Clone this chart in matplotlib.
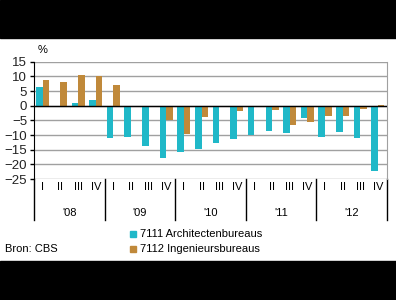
import matplotlib
matplotlib.use("Agg")
import matplotlib.pyplot as plt
from matplotlib.patches import Rectangle
import numpy as np

plt.rcParams['font.family'] = ['Liberation Sans', 'DejaVu Sans']

# data
years = ["'08", "'09", "'10", "'11", "'12"]
quarters = ['I', 'II', 'III', 'IV']
architecten = [6.3, 0.0, 0.9, 1.8,
               -11.0, -10.7, -13.7, -17.8,
               -15.8, -14.8, -12.7, -11.4,
               -10.1, -8.6, -9.3, -4.2,
               -10.7, -9.0, -11.0, -22.3]
ingenieurs = [8.6, 8.0, 10.3, 10.0,
              6.9, -0.4, -0.4, -5.0,
              -9.8, -3.9, -0.2, -1.8,
              -0.4, -1.5, -6.6, -5.6,
              -3.5, -3.5, -1.1, 0.4]
series_names = ['7111 Architectenbureaus', '7112 Ingenieursbureaus']
colors = ['#20B8C8', '#C0893A']

fig = plt.figure(figsize=(3.96, 3.0), dpi=100)
# black bands top and bottom
fig.add_artist(Rectangle((0, 1 - 38 / 300), 1, 38 / 300, transform=fig.transFigure,
                         color='black', zorder=0))
fig.add_artist(Rectangle((0, 0), 1, 39 / 300, transform=fig.transFigure,
                         color='black', zorder=0))

ax = fig.add_axes([34 / 396, 1 - 179 / 300, 352.7 / 396, 117.3 / 300])
x = np.arange(len(architecten))
w = 0.37
ax.bar(x - w / 2, architecten, w, color=colors[0], zorder=3)
ax.bar(x + w / 2, ingenieurs, w, color=colors[1], zorder=3)

ax.set_xlim(-0.5, len(x) - 0.5)
ax.set_ylim(-25, 15)
ax.set_yticks(range(-25, 16, 5))
ax.yaxis.grid(True, color='#A0A0A0', linewidth=1)
ax.set_axisbelow(True)
ax.axhline(0, color='black', linewidth=1, zorder=4)
ax.set_xticks([])
ax.tick_params(axis='y', length=3, width=1, pad=2, labelsize=9.5, color='black',
               labelcolor='#222222')
ax.spines['top'].set_visible(False)
ax.spines['bottom'].set_visible(False)
ax.spines['right'].set_color('#A0A0A0')
ax.spines['left'].set_color('black')

# category labels underneath
trans = ax.get_xaxis_transform()
for i in range(len(x)):
    ax.text(i, -0.068, quarters[i % 4], transform=trans, ha='center', va='center',
            fontsize=8)
for j, yr in enumerate(years):
    ax.text(j * 4 + 1.5, -0.29, yr, transform=trans, ha='center', va='center',
            fontsize=8)
for b in range(len(years) + 1):
    ax.plot([b * 4 - 0.5, b * 4 - 0.5], [0, -0.35], transform=trans, color='black',
            linewidth=1, clip_on=False)

fig.text(38 / 396, 1 - 50 / 300, '%', fontsize=8, ha='left', va='center')

# legend
for k, name in enumerate(series_names):
    yy = 1 - (234 + 15 * k) / 300
    fig.add_artist(Rectangle((130 / 396, yy - 3 / 300), 6 / 396, 6 / 300,
                             transform=fig.transFigure, color=colors[k]))
    fig.text(140 / 396, yy, name, fontsize=8, ha='left', va='center')
fig.text(5 / 396, 1 - 249 / 300, 'Bron: CBS', fontsize=8, ha='left', va='center')

fig.savefig('out.png', dpi=100)
